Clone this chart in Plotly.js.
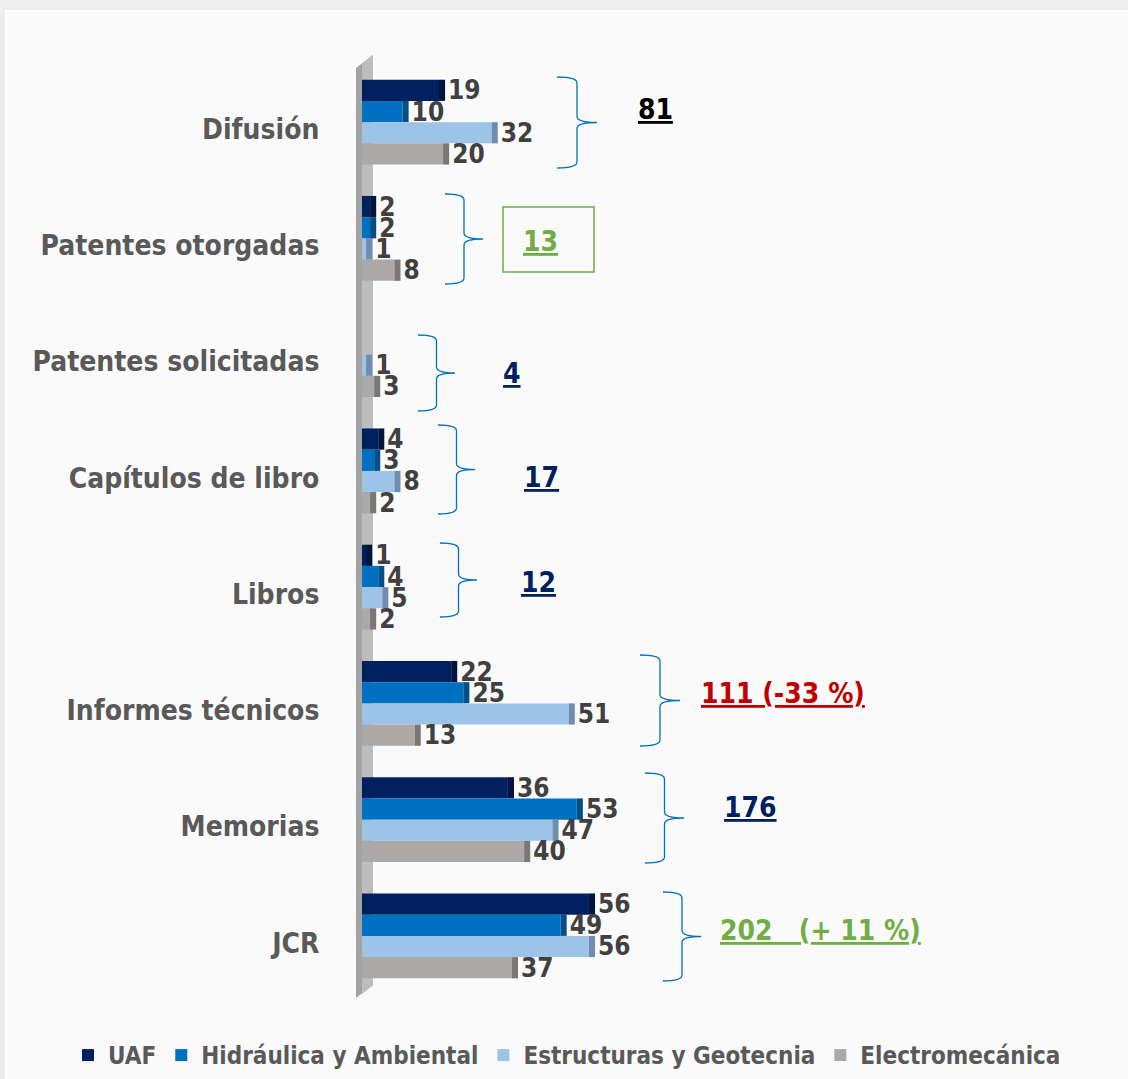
<!DOCTYPE html>
<html>
<head>
<meta charset="utf-8">
<script src="https://cdn.plot.ly/plotly-3.0.1.min.js"></script>
<style>html,body{margin:0;padding:0;background:#f7f7f7;}#chart{width:1128px;height:1079px;}</style>
</head>
<body>
<div id="chart"></div>
<script>
// ---- data ----
const categories = ["Difusión", "Patentes otorgadas", "Patentes solicitadas", "Capítulos de libro", "Libros", "Informes técnicos", "Memorias", "JCR"];
const seriesNames = ["UAF", "Hidráulica y Ambiental", "Estructuras y Geotecnia", "Electromecánica"];
const uaf          = [19, 2, 0, 4, 1, 22, 36, 56];
const hidraulica   = [10, 2, 0, 3, 4, 25, 53, 49];
const estructuras  = [32, 1, 1, 8, 5, 51, 47, 56];
const electromec   = [20, 8, 3, 2, 2, 13, 40, 37];
const totalLabels  = ["81", "13", "4", "17", "12", "111 (-33 %)", "176", "202   (+ 11 %)"];

// ---- styles ----
const FONT = '"Liberation Sans Narrow", "Arial Narrow", "DejaVu Sans Condensed", "Roboto", sans-serif';
const frontColors = ["#002060", "#0070C0", "#9DC3E6", "#ABA8A8"];
const sideColors  = ["#00143d", "#004f87", "#6f8db0", "#7a7777"];
const DEPTH = 1.5;

const W = 1128, H = 1079;
const M = {l: 362, r: 0, t: 64, b: 85};
const PW = W - M.l - M.r, PH = H - M.t - M.b;
const px = x => (x - M.l) / PW;
const py = y => 1 - (y - M.t) / PH;

const allSeries = [uaf, hidraulica, estructuras, electromec];
const traces = [];
allSeries.forEach((vals, i) => {
  traces.push({
    type: "bar", orientation: "h", y: categories, x: vals,
    name: seriesNames[i], offsetgroup: "g" + i,
    marker: {color: frontColors[i], line: {width: 0}},
    hoverinfo: "x+name", showlegend: true
  });
  traces.push({
    type: "bar", orientation: "h", y: categories,
    x: vals.map(v => v > 0 ? DEPTH : 0), base: vals,
    text: vals.map(v => v > 0 ? String(v) : ""),
    textposition: "outside", constraintext: "none", cliponaxis: false,
    textfont: {family: FONT, size: 26, color: "#404040", weight: 700},
    offsetgroup: "g" + i, showlegend: false, hoverinfo: "skip",
    marker: {color: sideColors[i], line: {width: 0}}
  });
});

// braces: [x0, yTop, yBottom, width]
const braces = [
  [557, 77, 168, 40], [445, 194, 284, 38], [418, 335, 411, 37], [438, 425, 514, 37],
  [440, 543, 617, 37], [640, 655, 746, 40], [645, 773, 863, 39], [663, 892, 981, 38]
];
function bracePath(b) {
  const x0 = b[0], y0 = b[1], y1 = b[2], w = b[3];
  const xm = x0 + w * 0.5, x1 = x0 + w, ym = (y0 + y1) / 2, r = 6;
  const P = (x, y) => px(x).toFixed(5) + "," + py(y).toFixed(5);
  return "M" + P(x0, y0) + " Q" + P(xm, y0) + " " + P(xm, y0 + r) +
    " L" + P(xm, ym - r) + " Q" + P(xm, ym) + " " + P(x1, ym) +
    " Q" + P(xm, ym) + " " + P(xm, ym + r) +
    " L" + P(xm, y1 - r) + " Q" + P(xm, y1) + " " + P(x0, y1);
}

const shapes = [
  {type: "rect", xref: "paper", yref: "paper", x0: px(6), x1: px(1140), y0: py(1090), y1: py(11),
   fillcolor: "#fafafa", line: {color: "#ffffff", width: 2}, layer: "below"},
  {type: "path", xref: "paper", yref: "paper", layer: "below",
   path: "M" + px(356) + "," + py(68) + " L" + px(373) + "," + py(55) + " L" + px(373) + "," + py(985) + " L" + px(356) + "," + py(998) + " Z",
   fillcolor: "#a3a3a3", line: {width: 0}},
  {type: "path", xref: "paper", yref: "paper", layer: "below",
   path: "M" + px(362) + "," + py(64) + " L" + px(373) + "," + py(55) + " L" + px(373) + "," + py(985) + " L" + px(362) + "," + py(994) + " Z",
   fillcolor: "#bdbdbd", line: {width: 0}},
  {type: "rect", xref: "paper", yref: "paper", x0: px(503), x1: px(594), y0: py(272), y1: py(207),
   line: {color: "#70AD47", width: 1.5}, fillcolor: "rgba(0,0,0,0)"}
];
braces.forEach(b => shapes.push({type: "path", xref: "paper", yref: "paper", path: bracePath(b),
  line: {color: "#0070C0", width: 1.3}}));

const totalPos = [[655, 110, "#000000"], [540, 241, "#70AD47"], [512, 373, "#002060"], [541, 477, "#002060"],
  [538, 582, "#002060"], [783, 693, "#C00000"], [750, 807, "#002060"], [820, 930, "#70AD47"]];
const annotations = totalLabels.map((t, i) => ({
  xref: "paper", yref: "paper", x: px(totalPos[i][0]), y: py(totalPos[i][1]),
  xanchor: "center", yanchor: "middle", showarrow: false,
  text: "<u>" + t + "</u>",
  font: {family: FONT, size: 28, color: totalPos[i][2], weight: 700}
}));

const layout = {
  width: W, height: H, margin: M,
  paper_bgcolor: "#eeeeee", plot_bgcolor: "rgba(0,0,0,0)",
  barmode: "group", bargap: 0.27, bargroupgap: 0,
  xaxis: {range: [0, 189], visible: false, fixedrange: true},
  yaxis: {type: "category", categoryarray: categories, autorange: "reversed",
    showgrid: false, zeroline: false, showline: false,
    ticks: "outside", ticklen: 36, tickcolor: "rgba(0,0,0,0)", ticklabelshift: -7,
    tickfont: {family: FONT, size: 28, color: "#595959", weight: 700}},
  legend: {orientation: "h", xref: "paper", yref: "paper", x: px(68), y: py(1078), xanchor: "left", yanchor: "bottom",
    font: {family: FONT, size: 24, color: "#595959", weight: 700}, bgcolor: "rgba(0,0,0,0)", itemclick: false},
  shapes: shapes, annotations: annotations, showlegend: true
};

Plotly.newPlot("chart", traces, layout, {displayModeBar: false, staticPlot: true});
</script>
</body>
</html>
